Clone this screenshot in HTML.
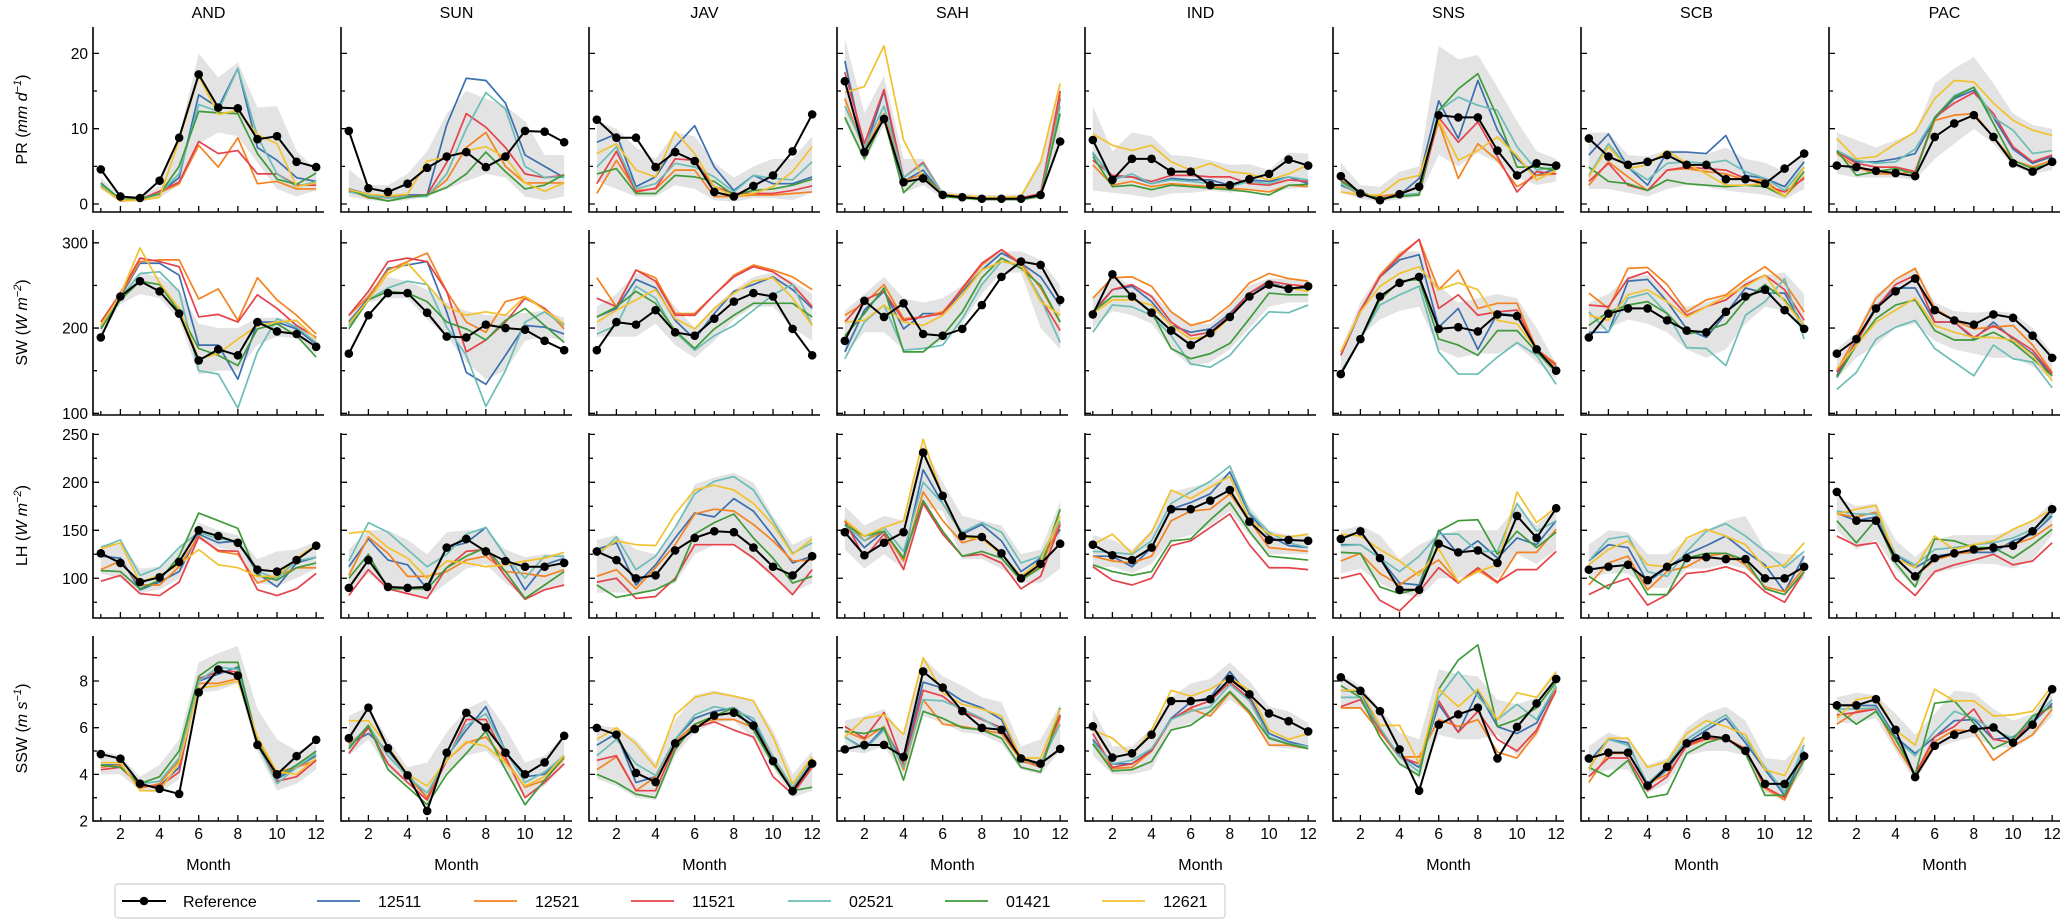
<!DOCTYPE html>
<html><head><meta charset="utf-8">
<style>
html,body{margin:0;padding:0;background:#fff;}
svg{display:block;font-family:"Liberation Sans",Arial,sans-serif;}
</style></head>
<body>
<svg id="chart" width="2067" height="921" viewBox="0 0 2067 921" xmlns="http://www.w3.org/2000/svg"></svg>
<script>
// Series order: Reference, 12511, 12521, 11521, 02521, 01421, 12621, band-low, band-high
const regions = ["AND","SUN","JAV","SAH","IND","SNS","SCB","PAC"];
const seriesNames = ["Reference","12511","12521","11521","02521","01421","12621"];
const seriesColors = ["#000000","#3b6fae","#f58220","#e5424b","#6cbdb6","#3f9a3a","#f2c12e"];
const months = [1,2,3,4,5,6,7,8,9,10,11,12];
const xTickLabels = [2,4,6,8,10,12];

const PR_AND=[[4.6,1,0.8,3.1,8.8,17.2,12.8,12.7,8.6,9.0,5.6,4.9],[2.5,0.6,0.7,1.5,3.5,14.5,12.8,18,7.5,5.8,3.5,3],[2.3,0.4,0.6,1.5,2.7,7.8,4.9,8.8,2.7,3,2,2],[2.5,0.5,0.6,1.7,2.9,8.3,6.7,7.1,4,4,2.5,2.5],[2.5,0.5,0.6,1.4,4,13.2,12.3,18,9,4,2.3,3],[2.8,0.6,0.7,1.3,5,12.3,12.1,12,6.7,3.3,2.6,4.1],[2.2,0.5,0.5,0.9,8.5,17,11.9,12.4,9.2,8,2.3,2.8],[2,0.3,0.3,0.8,2.5,8,9.5,9,5.5,2,1,1.8],[3.5,1,1,2.5,9,20,16.8,18.8,12.8,13,7,4.5]];
const PR_SUN=[[9.7,2.1,1.6,2.7,4.8,6.3,6.9,4.9,6.3,9.7,9.6,8.2],[2,1.3,0.9,1.2,1.2,10.5,16.7,16.4,13.4,6.5,5,3.5],[1.9,0.8,0.9,1,1.1,3.2,7.5,9.5,5,2.8,2.8,2.8],[1.8,1,0.8,1,1.2,5.5,12,10.2,7.5,4,3.5,3.8],[1.6,1.1,0.8,1,1,4,10,14.8,12.6,5,3.5,3.6],[2,0.9,0.4,0.9,1.2,2.2,4,6.9,4.3,2,2.5,3.9],[1.9,1.3,1.1,1.3,5.7,6.2,7.1,7.6,6.2,2.8,1.7,2.8],[1,0.5,0.3,0.5,1,2,3,4,3.5,1,0.5,1],[4.6,2.5,2.5,4,7,12,15,14,13,11,6.5,6.5]];
const PR_JAV=[[11.2,8.8,8.8,4.9,6.9,5.7,1.6,1,2.4,3.8,7,11.9],[8.2,9.3,2.3,3.6,7.6,10.4,4.9,1.8,3.8,2.7,2.7,3.6],[1.4,5.8,1.8,2,4.5,4.5,1,1,1.2,1.2,1.4,1.6],[2.7,7,1.6,2.1,6,5.8,2.3,1.4,1.4,1.4,1.8,2.4],[4.9,7.6,2,2.7,5.4,4.9,3.6,1.6,3.8,3.4,3.2,5.6],[4,4.7,1.4,1.4,3.8,3.6,3,1.2,1.8,2,2.5,3.3],[6.7,8,4.5,3.6,9.6,6.7,2.3,1,1.4,2.3,4.3,7.6],[3,2,1,1,2.5,2,0.5,0.3,0.8,0.8,0.5,1.5],[11,10,7.5,6,9.5,9,5.5,3.5,5,6,6,9]];
const PR_SAH=[[16.3,6.9,11.3,2.9,3.4,1.2,0.9,0.7,0.7,0.7,1.2,8.3],[19,7,15,3,4.5,1.2,1,0.7,0.7,0.8,1.3,14],[14,7,12,3,4,1.2,1,0.8,0.8,0.8,1.2,14.5],[17.5,8,15.2,3.5,5.5,1.3,1,0.8,0.8,0.8,1.4,15],[13,7.5,13,3.5,5.3,1.3,1,0.8,0.8,0.7,1.1,13],[11.5,6,11.5,1.5,4,1,0.8,0.6,0.6,0.6,1,12],[14.8,15.6,21,8.5,3.5,1.3,1.1,0.9,0.9,1,5.5,16],[11,5.5,10.5,1.5,2.5,0.8,0.6,0.4,0.4,0.4,0.8,8],[22,12,17,6,6,1.7,1.4,1.2,1.2,1.3,6,16.5]];
const PR_IND=[[8.5,3.2,6,6,4.3,4.3,2.5,2.5,3.3,4,5.9,5.1],[6.7,3.6,3.6,2.7,3.4,3.2,3.2,2.5,3.2,3,3.6,2.7],[5.2,2.5,3,2.3,2.7,2.5,2.3,2.1,1.9,1.6,2.5,2.3],[5.8,3.8,3.6,3,3.8,3.8,3.6,3.6,2.7,2.5,3.2,3],[6.9,3.2,4,2.7,3.2,3,2.7,2.3,3,2.7,3.6,3.2],[6.3,2.3,2.5,1.9,2.5,2.3,2.1,1.9,1.6,1.2,2.5,2.6],[9.3,7.8,7.1,7.8,5.6,4.5,5.4,4.3,4,3.2,4,5.2],[1.8,1.5,1.2,0.8,1.4,1.5,1.8,1.5,1.8,1.5,2,2.2],[13,7,9.5,9,6.5,6.3,5.8,5.2,5.3,4.5,6.8,6.7]];
const PR_SNS=[[3.7,1.4,0.5,1.3,2.3,11.8,11.5,11.5,7.1,3.8,5.4,5.1],[2.5,1.4,0.7,1.2,3.4,13.7,8.7,16.4,9.8,6,3.8,4.7],[2.7,1.2,1,1.4,2.3,10.9,3.4,8,5.8,2.3,3.8,4],[3.2,1.4,0.7,1.2,1.2,11.5,8.2,10.9,6.3,1.6,4.3,4],[2.7,1.4,0.7,1.2,1.4,12.4,14.2,13.1,12.4,7.6,4.5,4.9],[3,1.6,0.7,1,1.2,12.4,15.3,17.3,11.5,4.9,4.9,4.5],[1.6,1.2,1.2,3.2,3.8,11.1,5.8,7.1,8.9,6.4,3.2,4.5],[1.5,0.7,0.3,0.6,1,6.5,5,6.8,5.5,3.5,2.5,3],[5.5,2.5,2.3,4.3,5,21,19.2,19.8,15.5,11,7,6]];
const PR_SCB=[[8.7,6.3,5.2,5.6,6.5,5.2,5.2,3.3,3.3,2.7,4.7,6.7],[6.5,9.3,4.9,2.5,6.9,6.9,6.7,9.1,3.8,3.4,2.3,5.6],[2.5,5.6,3.6,1.8,4.5,4.7,4.3,4,3.2,3.2,1,3.6],[3,5.4,2.5,1.8,4.5,4.9,4.7,4.5,3.4,2.5,1.6,3.4],[3.8,8,4.9,3.2,5.4,5.6,5.4,5.8,4.3,3.4,1.8,4.9],[4.9,3,2.7,1.8,3.2,2.7,2.5,2.3,2.5,2.3,1,4.3],[3.6,7.6,4.7,5.2,7.1,5.4,4,2.5,2.5,2.7,1,4.9],[2,2,1.5,1,2,2.5,2.3,1.8,1.5,1.2,0.6,2],[9.5,9.5,6.5,6.3,7.2,7,6.6,7.5,6,5.5,4.3,7]];
const PR_PAC=[[5.1,4.9,4.4,4.1,3.7,8.9,10.7,11.8,8.9,5.4,4.3,5.6],[6.9,5.6,5.6,6,6.7,11.3,14,15.1,11.5,7.3,5.4,6.3],[6.7,4.9,4,4,4.3,11.1,11.8,12,8.9,5.8,4.9,5.8],[6.9,5.4,4.9,4.9,4.3,11.5,13.4,14.8,12,7.6,5.6,6.5],[7.1,5.8,5.4,5.6,7.3,11.5,14.4,15.5,11.5,9.8,6.7,7.1],[7.1,3.8,4.3,4.7,4,11.5,14.2,15.5,10.7,5.8,4.7,5.4],[8.7,6,6.3,8,9.6,14,16.4,16.2,13.4,11.1,9.8,9.1],[4,3.5,3.5,3.5,3.2,6,8,10,8,5,4,4.5],[9.5,8.5,7.5,8.5,9.5,16,18,19.5,16,12,10.5,10]];

const SW_AND=[[189,237,255,243,217,162,175,168,207,196,193,178],[203,237,276,276,262,180,180,140,207,207,199,181],[203,239,278,280,280,234,246,209,259,233,215,193],[207,241,282,278,272,213,216,207,239,223,203,189],[201,235,264,266,243,150,146,106,172,211,201,183],[199,233,255,251,219,176,168,156,199,205,191,166],[203,239,294,253,223,164,170,187,203,207,209,187],[192,228,240,235,210,145,150,150,180,190,188,170],[205,245,265,260,245,205,200,200,212,212,210,190]];
const SW_SUN=[[170,215,241,241,218,190,189,204,200,198,185,174],[207,235,270,274,278,219,148,134,168,203,201,193],[215,237,268,278,288,243,207,195,231,237,223,199],[215,243,278,282,278,243,172,186,207,235,223,203],[203,233,247,255,251,201,168,108,150,207,219,203],[199,233,243,241,231,207,199,186,209,223,203,183],[205,233,264,276,251,225,215,219,215,237,221,205],[205,230,235,235,210,190,160,140,150,185,190,185],[215,245,260,255,245,230,220,215,215,218,220,212]];
const SW_JAV=[[174,207,204,221,195,191,211,231,241,237,199,168],[213,223,257,247,209,187,217,243,251,260,245,223],[259,225,268,259,217,217,239,262,274,268,260,245],[235,225,268,255,215,215,239,260,272,266,251,225],[193,203,249,235,195,174,191,203,221,239,251,203],[213,225,243,229,197,176,199,215,229,229,229,213],[207,221,233,245,211,199,223,241,255,259,235,203],[190,190,190,205,180,165,185,210,225,225,200,185],[225,240,265,255,225,200,225,245,260,265,255,240]];
const SW_SAH=[[185,232,213,229,193,191,199,227,260,278,274,233],[172,221,243,199,217,217,243,268,288,276,260,226],[215,229,251,211,213,219,245,274,292,276,247,207],[207,233,243,209,213,217,247,276,292,274,235,197],[164,207,227,174,176,180,211,251,278,274,235,183],[191,217,247,172,172,191,219,259,282,270,250,207],[207,209,227,207,203,215,239,268,278,274,231,215],[170,195,195,175,175,185,205,240,265,265,200,175],[220,240,260,235,230,235,250,275,290,290,280,250]];
const SW_IND=[[216,263,237,218,197,180,194,213,237,251,246,249],[219,245,249,231,203,195,199,217,241,253,247,247],[235,259,260,249,219,203,209,227,253,264,258,255],[217,245,251,237,207,191,195,215,241,255,251,249],[195,227,225,215,191,158,154,168,195,219,218,227],[219,237,237,219,176,164,170,182,211,241,239,239],[217,233,233,227,203,187,191,213,237,251,247,243],[200,220,215,205,175,155,160,175,200,225,230,230],[235,262,250,240,220,205,205,225,250,258,258,255]];
const SW_SNS=[[146,187,237,253,260,199,201,196,216,214,175,150],[168,219,260,280,286,201,223,175,217,215,175,152],[172,219,262,286,304,245,268,223,229,229,175,158],[168,221,260,284,304,223,239,215,219,221,175,156],[148,187,227,239,249,172,146,146,166,183,168,134],[148,187,233,255,257,187,180,168,197,197,172,148],[172,219,249,264,272,245,253,245,209,205,175,152],[145,190,210,220,225,175,165,170,170,180,160,140],[175,230,265,290,290,250,230,235,240,235,200,158]];
const SW_SCB=[[189,217,223,223,209,197,195,219,237,245,221,199],[195,195,255,257,231,199,189,217,247,241,241,201],[241,223,270,271,251,219,233,239,257,272,253,219],[227,225,258,266,241,215,225,233,251,262,245,209],[219,195,235,241,217,177,176,156,215,231,258,187],[203,219,227,231,217,193,197,205,233,251,233,203],[215,209,239,245,231,213,225,237,249,262,231,203],[195,200,210,205,195,175,165,175,205,225,220,195],[230,240,260,262,240,225,230,240,255,262,265,240]];
const SW_PAC=[[170,187,223,243,258,221,209,204,216,212,191,165],[144,186,225,247,247,207,207,187,207,187,170,144],[150,191,235,257,270,223,209,199,201,203,180,148],[148,183,223,251,262,207,207,189,203,189,174,146],[128,148,187,201,209,176,160,144,180,164,160,130],[142,180,211,227,233,197,186,186,195,183,164,144],[152,180,207,221,235,203,195,189,189,186,168,138],[140,165,180,200,205,185,175,170,165,165,155,140],[175,195,240,255,270,230,220,218,220,218,200,170]];

const LH_AND=[[126,116,96,101,117,150,144,137,109,107,119,134],[123,121,88,96,107,146,137,139,105,91,116,122],[109,118,93,93,112,144,128,125,95,102,111,111],[97,103,84,82,96,143,129,128,88,82,89,105],[132,140,103,111,132,148,141,139,107,100,118,122],[108,107,89,98,123,168,160,152,103,98,111,116],[131,137,96,103,114,130,114,111,102,102,121,135],[105,100,85,88,100,140,132,128,95,92,100,110],[135,137,110,112,130,158,150,145,120,128,130,138]];
const LH_SUN=[[90,119,91,90,91,132,141,128,118,112,112,116],[112,141,119,114,89,132,137,153,123,88,114,121],[103,143,126,102,102,107,119,123,107,105,102,109],[82,109,89,84,79,111,128,130,102,78,88,93],[118,158,148,130,112,125,146,153,123,100,123,123],[100,125,89,89,89,111,123,132,107,79,93,107],[147,149,132,121,100,118,116,112,114,118,121,127],[85,105,88,85,80,95,110,115,95,80,88,95],[130,150,150,140,125,148,150,150,130,122,125,125]];
const LH_JAV=[[128,119,100,103,129,142,149,148,132,112,103,123],[130,137,93,114,142,168,164,183,170,144,116,123],[102,109,89,111,135,167,172,170,156,139,118,119],[96,100,79,81,100,135,135,135,121,103,83,109],[123,143,109,123,153,188,201,206,192,160,126,137],[93,80,84,88,98,146,158,167,142,121,95,102],[126,139,135,134,167,192,197,192,178,156,125,141],[85,85,85,88,95,125,135,135,120,100,85,95],[140,145,130,125,150,198,205,210,200,165,135,145]];
const LH_SAH=[[148,124,137,148,231,186,144,143,126,100,115,136],[156,132,149,121,213,178,146,156,139,107,121,151],[161,139,149,118,190,160,137,143,126,100,112,158],[160,121,146,109,178,146,123,125,116,89,102,156],[156,139,153,128,200,178,148,158,148,116,123,160],[156,144,149,121,181,149,123,128,121,98,111,172],[161,144,153,160,245,185,143,141,125,102,119,165],[130,110,125,110,175,170,120,120,110,95,95,110],[175,155,165,160,240,200,165,160,155,125,130,180]];
const LH_IND=[[135,124,119,132,172,172,181,192,159,140,140,139],[123,123,112,132,172,179,188,211,167,144,134,132],[123,118,116,123,160,170,172,188,160,132,130,128],[112,98,93,100,134,139,153,167,135,111,111,109],[128,127,125,139,178,190,201,217,169,148,137,132],[114,107,103,107,139,141,161,179,149,123,121,119],[135,146,126,148,192,183,195,206,161,146,143,146],[110,112,105,115,140,145,155,170,145,125,125,125],[145,140,130,150,190,195,200,210,175,150,145,145]];
const LH_SNS=[[141,149,121,88,88,136,127,129,116,165,142,173],[135,135,121,95,93,150,125,139,121,142,135,160],[118,126,105,93,107,119,96,109,95,127,127,151],[100,105,77,66,86,111,95,111,96,109,109,128],[134,135,121,107,123,146,146,128,128,178,149,160],[127,126,91,84,89,149,160,161,125,149,132,148],[146,144,130,118,103,131,96,107,114,190,158,174],[105,110,95,85,80,100,100,105,100,125,115,130],[150,155,145,120,135,145,150,150,150,175,155,175]];
const LH_SCB=[[109,112,114,98,112,121,122,120,120,100,100,112],[118,135,132,96,111,125,134,144,128,114,86,123],[93,116,123,88,107,112,123,126,114,91,86,111],[83,93,100,72,83,105,107,112,105,86,75,107],[118,141,144,107,102,128,149,157,144,128,111,128],[102,89,118,83,83,121,126,126,119,89,83,107],[114,130,139,114,112,142,151,144,135,111,114,137],[100,105,105,90,90,110,110,115,110,90,85,100],[135,150,148,125,125,140,150,160,165,130,125,125]];
const LH_PAC=[[190,160,160,121,102,121,126,130,132,134,149,172],[168,160,164,125,111,123,126,127,127,139,146,165],[167,164,169,121,102,119,125,128,132,135,142,156],[144,134,137,100,82,107,114,119,125,114,118,137],[170,167,167,125,114,130,132,135,137,142,151,167],[160,137,161,116,91,141,139,132,132,121,135,151],[167,172,176,121,111,144,130,135,139,151,160,172],[150,130,140,110,90,105,110,115,115,110,120,145],[185,175,178,140,122,140,145,145,145,150,160,180]];

const SSW_AND=[[4.87,4.67,3.6,3.38,3.16,7.51,8.49,8.23,5.26,4,4.78,5.48],[4.4,4.4,3.5,3.5,4.3,8,8.3,8.6,5.3,3.8,4.3,4.8],[4.3,4.4,3.4,3.6,4.6,7.9,7.9,8.1,5.5,4.1,4.3,4.6],[4.2,4.3,3.5,3.5,4.1,8.1,8.4,8.4,5.4,3.7,3.9,4.6],[4.4,4.3,3.6,3.7,4.7,8,8.6,8.5,5.3,3.6,4.3,4.9],[4.4,4.3,3.6,3.9,5,8.2,8.8,8.8,5.4,3.9,4.4,5],[4.5,4.5,3.3,3.3,4.5,7.7,7.8,8,5.6,4.1,4,4.7],[4,4,3.3,3.2,3.8,7.5,7.6,7.9,5,3.3,3.6,4.2],[5,4.8,3.9,4.4,5.5,8.8,9.2,9.5,6.8,5.5,5,5.3]];
const SSW_SUN=[[5.55,6.86,5.12,3.96,2.43,4.93,6.64,6.01,4.93,4,4.51,5.65],[5.3,5.75,5,4,3,4.75,5.9,6.9,5,3.9,4,4.8],[5.3,6,4.8,3.9,3,4.6,5.35,5.6,4.6,3.45,3.75,4.7],[4.9,6,4.45,3.65,2.9,4.6,6.35,6.35,4.75,3,3.65,4.45],[5.2,6.1,4.8,3.9,3.2,4.7,6.1,6.6,5,3.65,4.1,4.8],[5.1,6.1,4.2,3.45,2.7,4,4.9,5.85,4.2,2.7,3.75,4.75],[6.3,6.3,5.2,4,3.5,4.6,5.4,5.2,4.5,3.5,3.9,4.8],[4.8,5.5,4.2,3.6,2.8,4.1,4.8,5,4.2,3,3.5,4.4],[6.5,6.9,5.5,4.3,4.5,5.8,6.8,7.2,6,4.5,4.8,5.7]];
const SSW_JAV=[[5.99,5.7,4.06,3.67,5.33,5.94,6.52,6.64,6.09,4.57,3.28,4.46],[5.25,5.75,3.65,3.9,5.5,6.4,6.7,6.85,6.25,4.75,3.4,4.55],[4.2,4.75,3.3,3.9,5.4,6.15,6.35,6.35,6,4.75,3.3,4.7],[4.6,4.8,3.3,3.3,5.25,6,6.25,5.9,5.6,3.9,3.15,4.3],[4.8,5.5,4.45,3.95,5.5,6.55,6.9,6.75,6.4,4.75,3.45,4.6],[4,3.65,3.15,3,5.05,6.15,6.5,6.85,5.9,4.45,3.3,3.45],[5.5,6,5.3,4.3,6.55,7.3,7.5,7.35,7.15,5.6,3.6,4.75],[3.8,3.5,3,2.9,4.8,5.8,6.2,6.3,5.5,4.3,3,3.3],[6.1,6,5.5,4.5,6.3,7.4,7.6,7.4,7.2,5.9,4,5]];
const SSW_SAH=[[5.07,5.26,5.26,4.75,8.41,7.72,6.71,5.99,5.91,4.68,4.46,5.09],[5.6,5.1,6,4.45,7.95,7.7,7.15,6.85,6.35,4.55,4.4,6.5],[5.85,5.5,6.05,4.2,7.2,6.15,6.05,5.9,5.75,4.6,4.3,6.4],[6.05,5.55,6.65,4.4,7.6,7.35,6.7,6.35,6,4.75,4.4,6.55],[5.6,5.05,5.9,4.3,7.2,7.15,6.8,6.4,5.9,4.7,4.45,6.15],[5.85,5.75,6,3.75,6.7,6.4,6,5.9,5.55,4.3,4.1,6.85],[5.6,6.4,6.55,5.7,9,7.5,7,6.8,6.5,4.7,4.7,6.8],[5,4.9,5.2,4,6.5,6.2,5.8,5.7,5.3,4.2,4,5],[6.3,6.5,6.8,5.6,9,8.2,7.8,7.3,7.1,5.2,5.5,7]];
const SSW_IND=[[6.06,4.72,4.9,5.7,7.14,7.14,7.22,8.09,7.43,6.61,6.28,5.84],[5.5,4.45,4.45,5.05,6.4,7.1,7.3,8.4,7.35,5.75,5.4,5.2],[5.3,4.25,4.3,5,6.35,6.8,6.5,7.5,6.6,5.25,5.25,5.1],[5.75,4.3,4.45,5,6.35,6.85,7.15,7.95,7.25,5.55,5.3,5.2],[5.4,4.45,4.6,5.1,6.35,6.7,6.9,7.85,7.15,5.6,5.3,5.2],[5.3,4.15,4.2,4.55,5.9,6.1,6.7,7.55,6.7,5.55,5.3,5.1],[5.9,5.55,4.8,5.9,7.6,7.35,7.65,8.15,7.6,5.9,5.5,5.75],[4.8,4,4,4.2,5.9,6.2,6.5,7.2,6.6,5.2,5.1,5.1],[6.8,5.2,5.2,6,7.3,7.9,8.1,8.8,8,6.9,6.7,6.2]];
const SSW_SNS=[[8.16,7.58,6.71,5.07,3.3,6.13,6.57,6.86,4.68,6.03,7.04,8.09],[7.6,7.55,5.9,4.8,4.3,7,5.8,7.55,6.05,5.75,6.2,7.75],[6.85,6.85,5.8,4.75,4.75,6.35,6.05,6.35,4.95,4.7,5.8,7.7],[6.9,7.2,5.9,4.75,4.45,7.15,5.8,6.7,5.5,5,5.9,7.6],[7.3,7.3,6,4.75,4.1,7.3,8.4,7.35,6.35,7,6.35,7.8],[7.8,7.3,5.6,4.45,3.95,7.65,8.9,9.55,6.05,6.35,6.85,7.95],[7.6,7.6,6.1,6.1,4.45,7.65,6.9,7.65,6.35,7.5,7.3,8.4],[6.8,6.8,5.8,4.5,3.8,5.7,5.5,5.5,5.7,4.8,5.6,7.5],[8.3,7.8,6.8,5.8,5.5,8.5,8.3,8.2,7.2,7,7.3,8.4]];
const SSW_SCB=[[4.68,4.93,4.93,3.52,4.32,5.33,5.65,5.55,5.01,3.59,3.59,4.78],[4.55,5.5,5.35,3.5,4.2,5.35,5.9,6.4,5.35,4.2,3.1,5],[3.65,4.9,4.9,3.6,4,5.2,5.5,5.55,5.1,3.4,2.9,4.7],[3.9,4.7,4.7,3.3,3.9,5.25,5.55,5.5,5.1,3.45,3,4.7],[4.25,5.5,5.25,3.6,4.4,5.5,6.05,6.55,5.5,4.3,3.25,5.25],[4.3,3.9,4.6,3,3.15,4.9,5.35,5.6,4.9,3.1,3.1,4.6],[4.2,5.55,5.55,4.3,4.55,5.75,6.3,6.05,5.7,4.2,3.95,5.6],[3.9,4.2,4.2,3.2,3.6,4.8,5,5,4.8,3.2,3,4.2],[5.2,5.8,5.5,4.4,4.7,6,6.6,6.9,6.3,4.7,4.6,5.4]];
const SSW_PAC=[[6.96,6.96,7.22,5.91,3.88,5.22,5.7,5.94,6.01,5.36,6.13,7.65],[6.95,6.95,6.95,5.6,4.9,5.6,6.3,6.35,5.5,5.6,6.2,7.05],[6.15,6.7,6.8,5.25,3.95,5.4,5.9,5.85,4.6,5.2,5.7,6.8],[6.55,6.65,6.8,5.5,4,5.6,6.05,6.8,5.5,5.35,6.35,6.95],[6.8,6.8,6.85,5.5,4.8,5.85,6.7,6.4,5.9,5.55,6.35,7.2],[6.8,6.15,6.7,5.5,4,7.05,7.15,6.2,5.1,5.5,6.5,6.9],[6.4,7.2,7.35,5.9,5.25,7.65,7.15,7.15,6.5,6.55,6.7,7.8],[6.2,6.2,6.4,5,3.7,5.1,5.4,5.6,5.2,5.1,5.6,6.5],[7.3,7.5,7.4,6.6,5.7,6.6,7.6,7.5,6.8,6.3,6.6,7.7]];

const rowVars = ["PR","SW","LH","SSW"];
const PR_data=[PR_AND,PR_SUN,PR_JAV,PR_SAH,PR_IND,PR_SNS,PR_SCB,PR_PAC];
const SW_data=[SW_AND,SW_SUN,SW_JAV,SW_SAH,SW_IND,SW_SNS,SW_SCB,SW_PAC];
const LH_data=[LH_AND,LH_SUN,LH_JAV,LH_SAH,LH_IND,LH_SNS,LH_SCB,LH_PAC];
const SSW_data=[SSW_AND,SSW_SUN,SSW_JAV,SSW_SAH,SSW_IND,SSW_SNS,SSW_SCB,SSW_PAC];
const PR_ticks=[0,10,20], SW_ticks=[100,200,300], LH_ticks=[100,150,200,250], SSW_ticks=[2,4,6,8];
const PR_minor=[5,15], SW_minor=[150,250], LH_minor=[75,125,175,225], SSW_minor=[3,5,7,9];

const NS="http://www.w3.org/2000/svg";
const svg=document.getElementById('chart');
function mk(tag,attrs,parent){const e=document.createElementNS(NS,tag);for(const k in attrs)e.setAttribute(k,attrs[k]);(parent||svg).appendChild(e);return e;}

const rows=[
 {data:PR_data,dom:[-1.06,23.5],ticks:PR_ticks,minor:PR_minor,label:['PR (','mm d','−1',')']},
 {data:SW_data,dom:[98,315],ticks:SW_ticks,minor:SW_minor,label:['SW (','W m','−2',')']},
 {data:LH_data,dom:[58.6,251.4],ticks:LH_ticks,minor:LH_minor,label:['LH (','W m','−2',')']},
 {data:SSW_data,dom:[2,9.93],ticks:SSW_ticks,minor:SSW_minor,label:['SSW (','m s','−1',')']}
];
const PW=231,PH=185;
function panelLeft(c){return 93+c*248;}
function panelTop(r){return 27+r*203;}
function xScale(c,m){return panelLeft(c)+(m-0.6)/(12.4-0.6)*PW;}
function yScale(r,v){const d=rows[r].dom;return panelTop(r)+PH-(v-d[0])/(d[1]-d[0])*PH;}

// titles
regions.forEach((name,c)=>{
  const t=mk('text',{x:panelLeft(c)+PW/2,y:18,'text-anchor':'middle','font-size':'16'});
  
  
  t.textContent=name;
});

rows.forEach((row,r)=>{
  // y axis title
  const cy=panelTop(r)+PH/2;
  const yt=mk('text',{x:0,y:0,transform:`translate(27,${cy}) rotate(-90)`,'text-anchor':'middle','font-size':'16'});
  
  
  const s1=mk('tspan',{},yt);s1.textContent=row.label[0];
  const s2=mk('tspan',{'font-style':'italic'},yt);s2.textContent=row.label[1];
  const s3=mk('tspan',{dy:'-6','font-size':'11','font-style':'italic'},yt);s3.textContent=row.label[2];
  const s4=mk('tspan',{dy:'6'},yt);s4.textContent=row.label[3];

  for(let c=0;c<8;c++){
    const L=panelLeft(c),T=panelTop(r);
    const g=mk('g',{});
    
    
    const d=row.data[c];
    // band
    let pts=months.map((m,i)=>xScale(c,m)+','+yScale(r,d[8][i]));
    for(let i=11;i>=0;i--)pts.push(xScale(c,months[i])+','+yScale(r,d[7][i]));
    const band=mk('polygon',{points:pts.join(' '),fill:'#e3e3e3',stroke:'none'},g);
    
    
    // experiment lines
    for(let s=1;s<=6;s++){
      const p=months.map((m,i)=>xScale(c,m)+','+yScale(r,d[s][i])).join(' ');
      const pl=mk('polyline',{points:p,fill:'none',stroke:seriesColors[s],'stroke-width':'1.7','stroke-linejoin':'round'},g);
      
      
    }
    // reference
    const rp=months.map((m,i)=>xScale(c,m)+','+yScale(r,d[0][i])).join(' ');
    const rl=mk('polyline',{points:rp,fill:'none',stroke:'#000','stroke-width':'2','stroke-linejoin':'round'},g);
    
    
    months.forEach((m,i)=>{
      const dot=mk('circle',{cx:xScale(c,m),cy:yScale(r,d[0][i]),r:4.3,fill:'#000'},g);
      
      
    });
    // axes
    const ax=mk('path',{d:`M${L},${T} V${T+PH} H${L+PW}`,fill:'none',stroke:'#000','stroke-width':'1.6'},g);
    
    
    let td='';
    months.forEach(m=>{const x=xScale(c,m);td+=`M${x},${T+PH} v-${m%2===0?6:4} `;});
    row.ticks.forEach(v=>{const y=yScale(r,v);td+=`M${L},${y} h6 `;});
    row.minor.forEach(v=>{const y=yScale(r,v);td+=`M${L},${y} h4 `;});
    const tk=mk('path',{d:td,stroke:'#000','stroke-width':'1.3',fill:'none'},g);
    
    
    if(c===0){
      row.ticks.forEach(v=>{
        const t=mk('text',{x:L-5,y:yScale(r,v)+5.5,'text-anchor':'end','font-size':'15.5'},g);
        
        
        t.textContent=v;
      });
    }
    if(r===3){
      xTickLabels.forEach(m=>{
        const t=mk('text',{x:xScale(c,m),y:T+PH+18,'text-anchor':'middle','font-size':'15.5'},g);
        
        
        t.textContent=m;
      });
      const xl=mk('text',{x:L+PW/2,y:870,'text-anchor':'middle','font-size':'16'},g);
      
      
      xl.textContent='Month';
    }
  }
});

// legend
const lg=mk('g',{});


const lb=mk('rect',{x:115,y:884,width:1110,height:34,rx:3,fill:'#fff',stroke:'#cfcfcf','stroke-width':'1.2'},lg);


seriesNames.forEach((n,i)=>{
  const x0=122+i*157;
  const e=mk('g',{},lg);
  
  
  mk('line',{x1:i===0?x0:x0+38,y1:901,x2:x0+(i===0?44:81),y2:901,stroke:seriesColors[i],'stroke-width':i===0?2:1.8},e);
  if(i===0)mk('circle',{cx:x0+22,cy:901,r:4.3,fill:'#000'},e);
  const t=mk('text',{x:i===0?x0+61:x0+99,y:907,'font-size':'16'},e);
  t.textContent=n;
});
</script>
</body></html>
